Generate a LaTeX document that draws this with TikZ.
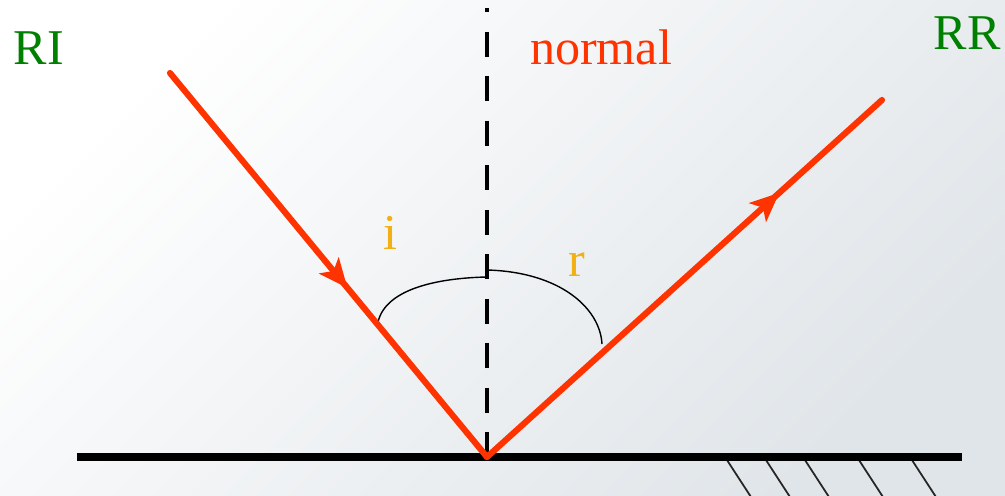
\documentclass[tikz,border=0pt]{standalone}
\usepackage{fontspec}
\setmainfont{Liberation Serif}
\usetikzlibrary{arrows.meta, decorations.markings}
\definecolor{rayred}{RGB}{255,51,0}
\definecolor{labelgreen}{RGB}{0,128,0}
\definecolor{angleorange}{RGB}{242,176,20}
\definecolor{bggray}{RGB}{224,229,233}

\begin{document}
\begin{tikzpicture}[
  x=0.02cm, y=-0.02cm,
  font=\fontsize{28.5}{32}\selectfont,
  ray/.style={
    draw=rayred,
    line width=3.5pt,
    line cap=round,
    postaction={decorate}
  },
  raytip/.style={
    decoration={markings,
      mark=at position #1 with {\arrow{Stealth[length=0.58cm, width=0.5cm, inset=0.14cm]}}}
  },
  mirror/.style={
    draw=black,
    line width=5.1pt
  },
  hatch/.style={
    draw=black!85,
    line width=1pt
  },
  normalline/.style={
    draw=black,
    line width=2.8pt,
    dash pattern=on 0.5cm off 0.39cm,
    dash phase=0.41cm
  },
  anglearc/.style={
    draw=black,
    line width=0.8pt
  },
  raylabel/.style={
    text=labelgreen,
    anchor=base
  },
  anglelabel/.style={
    text=angleorange,
    anchor=base
  }
]
  \useasboundingbox (0,0) rectangle (1005,496);
  \fill[top color=white, bottom color=bggray, shading angle=45] (0,0) rectangle (1005,496);

  % points
  \coordinate (O) at (487,457);
  \coordinate (A) at (170,73);
  \coordinate (B) at (882,100);
  \coordinate (ml) at (77,457);
  \coordinate (mr) at (962,457);
  \coordinate (ntop) at (487,8);

  % mirror and hatching
  \foreach \hx in {725,764,803,857,910} {
    \draw[hatch] (\hx,457) -- ++(26,40);
  }
  \draw[mirror] (ml) -- (mr);

  % normal
  \draw[normalline] (ntop) -- (O);

  % angles
  \draw[anglearc] (378,322) .. controls (386,288) and (440,278) .. (487,277);
  \draw[anglearc] (487,270) .. controls (560,272) and (600,308) .. (602,344);

  % rays
  \draw[ray, raytip=0.56] (A) -- (O);
  \draw[ray, raytip=0.74] (O) -- (B);

  % labels
  \node[raylabel] (ri) at (39,65) {RI};
  \node[raylabel] (rr) at (967,50) {RR};
  \node[text=rayred, anchor=base] (nlab) at (601,65) {normal};
  \node[anglelabel] (ilab) at (390,250) {i};
  \node[anglelabel] (rlab) at (577,277) {r};
\end{tikzpicture}
\end{document}
